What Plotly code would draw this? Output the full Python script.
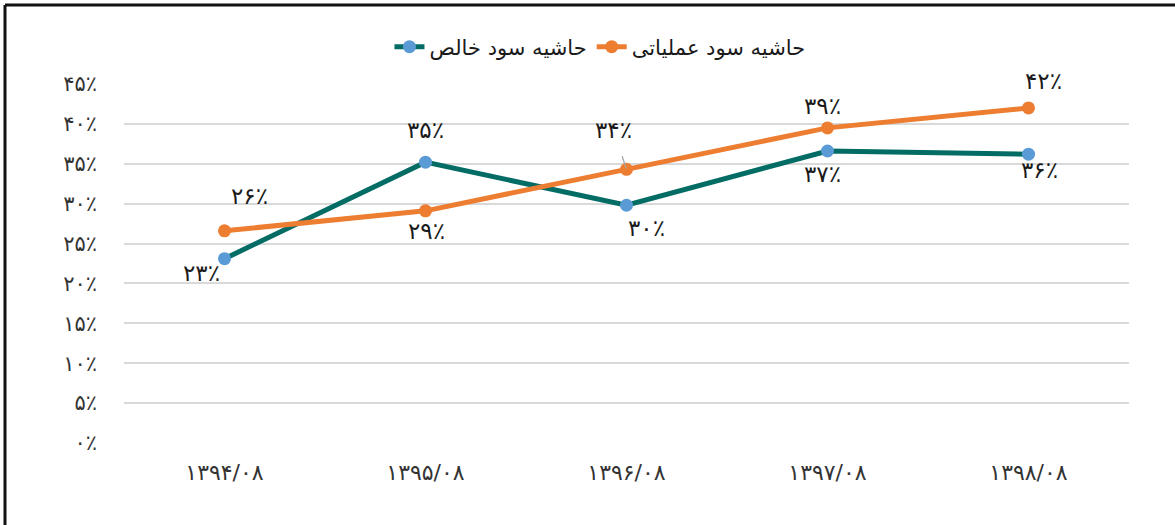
import plotly.graph_objects as go

categories = ["۱۳۹۴/۰۸", "۱۳۹۵/۰۸", "۱۳۹۶/۰۸", "۱۳۹۷/۰۸", "۱۳۹۸/۰۸"]
net_name = "حاشیه سود خالص"
op_name = "حاشیه سود عملیاتی"
net_margin = [23.1, 35.2, 29.8, 36.6, 36.2]
op_margin = [26.6, 29.1, 34.3, 39.5, 42.0]
net_labels = ["۲۳٪", "۳۵٪", "۳۰٪", "۳۷٪", "۳۶٪"]
op_labels = ["۲۶٪", "۲۹٪", "۳۴٪", "۳۹٪", "۴۲٪"]
y_tickvals = [0, 5, 10, 15, 20, 25, 30, 35, 40, 45]
y_ticktext = ["۰٪", "۵٪", "۱۰٪", "۱۵٪", "۲۰٪", "۲۵٪", "۳۰٪", "۳۵٪", "۴۰٪", "۴۵٪"]

# label offsets (pixels) for each data label
net_shift = [(-23, -14), (0, 32), (20, -23), (-5, -23), (11, -16)]
op_shift = [(25, 35), (1, -20), (-13, 39), (-5, 22), (15, 27)]

TEAL = "#036C64"
BLUE = "#5B9BD5"
ORANGE = "#ED7D31"
FONT = "DejaVu Sans"
TXT = "#1a1a1a"

fig = go.Figure()
fig.add_trace(go.Scatter(
    x=categories, y=net_margin, name=net_name, mode="lines+markers",
    line=dict(color=TEAL, width=5),
    marker=dict(color=BLUE, size=13, line=dict(width=0)),
))
fig.add_trace(go.Scatter(
    x=categories, y=op_margin, name=op_name, mode="lines+markers",
    line=dict(color=ORANGE, width=5),
    marker=dict(color=ORANGE, size=13, line=dict(width=0)),
))

LBL = dict(size=23, color=TXT, family=FONT)
annotations = []
for c, v, t, (dx, dy) in zip(categories, net_margin, net_labels, net_shift):
    annotations.append(dict(x=c, y=v, text=t, showarrow=False, xshift=dx, yshift=dy, font=LBL))
for i, (c, v, t, (dx, dy)) in enumerate(zip(categories, op_margin, op_labels, op_shift)):
    if i == 2:
        annotations.append(dict(x=c, y=v, text=t, showarrow=True, ax=dx, ay=-dy,
                                arrowhead=0, arrowwidth=1.3, arrowcolor="#A6A6A6",
                                startstandoff=12, standoff=1, font=LBL))
    else:
        annotations.append(dict(x=c, y=v, text=t, showarrow=False, xshift=dx, yshift=dy, font=LBL))

L, R, T, B = 124, 46, 84, 82
PW, PH = 1175 - L - R, 525 - T - B
bx = (5 - L) / PW
by = (443 - 5) / PH

fig.update_layout(
    width=1175, height=525,
    margin=dict(l=L, r=R, t=T, b=B),
    paper_bgcolor="white", plot_bgcolor="white",
    font=dict(family=FONT, color=TXT),
    showlegend=True,
    legend=dict(orientation="h", x=0.4736, xanchor="center", y=1.103, yanchor="middle",
                font=dict(size=21, color=TXT, family=FONT),
                bgcolor="rgba(0,0,0,0)"),
    xaxis=dict(range=[-0.5, 4.5], showgrid=False, showline=False, zeroline=False,
               ticks="", tickfont=dict(size=22, color="#333333", family=FONT),
               ticklabelstandoff=14),
    yaxis=dict(range=[0, 45], tickvals=y_tickvals, ticktext=y_ticktext,
               showgrid=True, gridcolor="#D9D9D9", gridwidth=1.5, zeroline=False,
               showline=False, ticks="", tickfont=dict(size=21, color="#333333", family=FONT),
               ticklabelstandoff=26),
    annotations=annotations,
    shapes=[
        dict(type="line", xref="paper", yref="paper", x0=bx, x1=1.2, y0=by, y1=by,
             line=dict(color="#111111", width=3)),
        dict(type="line", xref="paper", yref="paper", x0=bx, x1=bx, y0=by, y1=-0.3,
             line=dict(color="#111111", width=3)),
    ],
)

fig.write_html("out.html", config={"displayModeBar": False},
               post_script="document.body.style.margin='0px';")
